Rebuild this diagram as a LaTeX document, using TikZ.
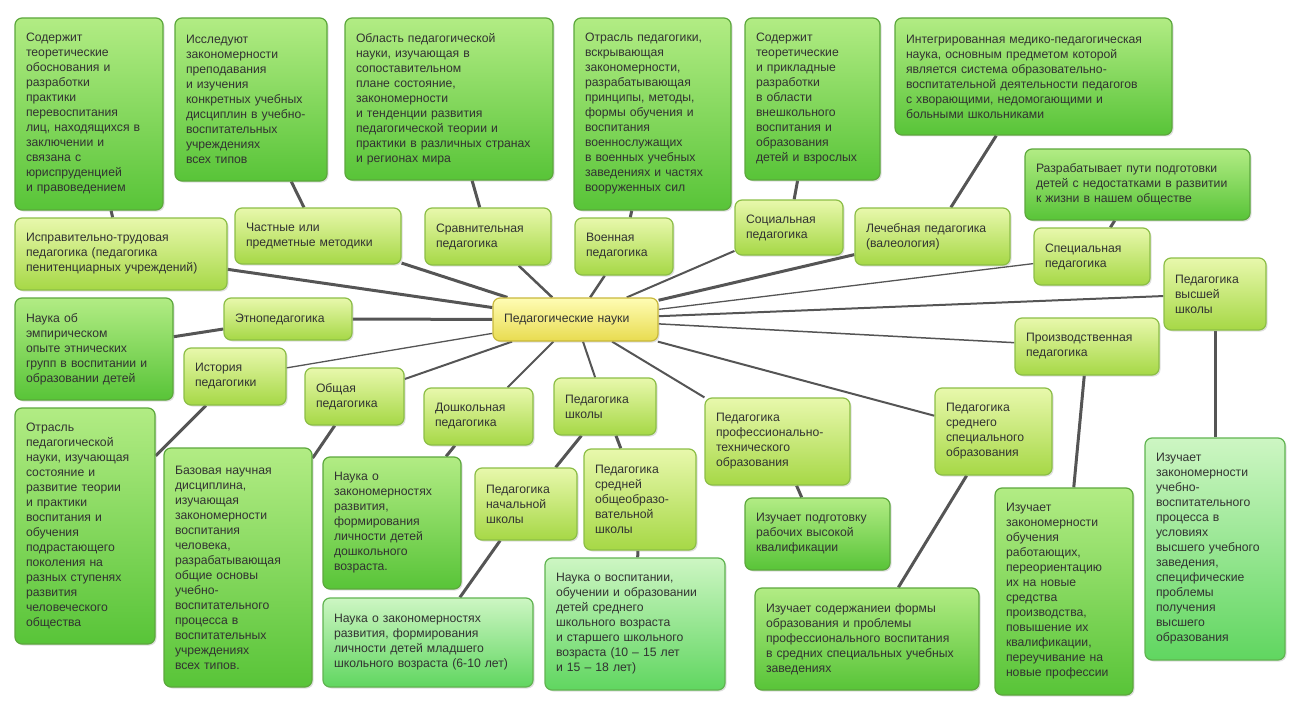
\documentclass[tikz,border=0pt]{standalone}
\usepackage{fontspec}
\setmainfont{Liberation Sans}
\usetikzlibrary{shadows,backgrounds}
\definecolor{textgray}{RGB}{50,50,50}
\definecolor{linkgray}{RGB}{85,85,85}
\definecolor{cattop}{RGB}{232,248,172}
\definecolor{catbot}{RGB}{166,216,70}
\definecolor{catedge}{RGB}{140,190,70}
\definecolor{desctop}{RGB}{178,236,132}
\definecolor{descbot}{RGB}{88,196,56}
\definecolor{descedge}{RGB}{92,168,60}
\definecolor{minttop}{RGB}{205,246,195}
\definecolor{mintbot}{RGB}{96,214,96}
\definecolor{mintedge}{RGB}{96,180,80}
\definecolor{hubtop}{RGB}{255,252,180}
\definecolor{hubbot}{RGB}{232,220,80}
\definecolor{hubedge}{RGB}{200,184,60}
\tikzset{
  box/.style={rectangle, rounded corners=7pt, line width=1.2pt, inner xsep=11pt,
    inner ysep=3pt, align=left, text=textgray, font=\fontsize{12.2}{15}\selectfont,
    drop shadow={opacity=0.25, shadow xshift=1.5pt, shadow yshift=-1.5pt}},
  cat/.style={box, draw=catedge, top color=cattop, bottom color=catbot},
  desc/.style={box, draw=descedge, top color=desctop, bottom color=descbot},
  mint/.style={box, draw=mintedge, top color=minttop, bottom color=mintbot},
  hub/.style={box, draw=hubedge, top color=hubtop, bottom color=hubbot},
  link/.style={draw=linkgray, line width=3pt},
}
\begin{document}
\begin{tikzpicture}[x=1pt, y=-1pt]
\useasboundingbox (0,0) rectangle (1295,706);

% top row of descriptions
\node[desc, text width=126pt, minimum height=192pt] (d1) at (89,114) {Содержит\\теоретические\\обоснования и\\разработки\\практики\\перевоспитания\\лиц, находящихся в\\заключении и\\связана с\\юриспруденцией\\и правоведением};
\node[desc, text width=130pt, minimum height=163pt] (d2) at (251,99.5) {Исследуют\\закономерности\\преподавания\\и изучения\\конкретных учебных\\дисциплин в учебно-\\воспитательных\\учреждениях\\всех типов};
\node[desc, text width=186pt, minimum height=162pt] (d3) at (449,99) {Область педагогической\\науки, изучающая  в\\сопоставительном\\плане состояние,\\закономерности\\и тенденции развития\\педагогической теории и\\практики в различных странах\\и регионах мира};
\node[desc, text width=135pt, minimum height=192pt] (d4) at (652.5,114) {Отрасль педагогики,\\вскрывающая\\закономерности,\\разрабатывающая\\принципы, методы,\\формы обучения и\\воспитания\\военнослужащих\\в военных учебных\\заведениях и частях\\вооруженных сил};
\node[desc, text width=113pt, minimum height=162pt] (d5) at (812.5,99) {Содержит\\теоретические\\и прикладные\\разработки\\в области\\внешкольного\\воспитания и\\образования\\детей и взрослых};
\node[desc, text width=255pt, minimum height=117pt] (d6) at (1033.5,76.5) {Интегрированная медико-педагогическая\\наука, основным предметом которой\\является система образовательно-\\воспитательной деятельности педагогов\\с хворающими, недомогающими и\\больными школьниками};
\node[desc, text width=203pt, minimum height=71pt] (d7) at (1137.5,184.5) {Разрабатывает пути подготовки\\детей с недостатками в развитии\\к жизни в нашем обществе};

% branches
\node[cat, text width=190pt, minimum height=72pt] (c8) at (121,254) {Исправительно-трудовая\\педагогика (педагогика\\пенитенциарных учреждений)};
\node[cat, text width=144pt, minimum height=56pt] (c9) at (318,236) {Частные или\\предметные методики};
\node[cat, text width=104pt, minimum height=57pt] (c10) at (488,236.5) {Сравнительная\\педагогика};
\node[cat, text width=76pt, minimum height=57pt] (c11) at (624,246.5) {Военная\\педагогика};
\node[cat, text width=86pt, minimum height=55pt] (c12) at (789,227.5) {Социальная\\педагогика};
\node[cat, text width=133pt, minimum height=57pt] (c13) at (932.5,236.5) {Лечебная педагогика\\(валеология)};
\node[cat, text width=94pt, minimum height=57pt] (c14) at (1092,256.5) {Специальная\\педагогика};
\node[cat, text width=80pt, minimum height=72pt] (c15) at (1215,294) {Педагогика\\высшей\\школы};
\node[cat, text width=106pt, minimum height=42pt] (c17) at (288,319) {Этнопедагогика};
\node[hub, text width=143pt, minimum height=43pt] (ctr) at (575.5,319.5) {Педагогические науки};
\node[cat, text width=80pt, minimum height=57pt] (c19) at (235,376.5) {История\\педагогики};
\node[cat, text width=77pt, minimum height=57pt] (c20) at (354.5,396.5) {Общая\\педагогика};
\node[cat, text width=87pt, minimum height=57pt] (c21) at (478.5,416.5) {Дошкольная\\педагогика};
\node[cat, text width=80pt, minimum height=57pt] (c22) at (605,406.5) {Педагогика\\школы};
\node[cat, text width=122pt, minimum height=57pt] (c23) at (1087,346.5) {Производственная\\педагогика};
\node[cat, text width=123pt, minimum height=87pt] (c24) at (777.5,441.5) {Педагогика\\профессионально-\\технического\\образования};
\node[cat, text width=95pt, minimum height=87pt] (c25) at (993.5,431.5) {Педагогика\\среднего\\специального\\образования};
\node[cat, text width=80pt, minimum height=72pt] (c29) at (526,504) {Педагогика\\начальной\\школы};
\node[cat, text width=90pt, minimum height=101pt] (c30) at (640,499.5) {Педагогика\\средней\\общеобразо-\\вательной\\школы};

% lower descriptions
\node[desc, text width=136pt, minimum height=102pt] (d16) at (94,349) {Наука об\\эмпирическом\\опыте этнических\\групп в воспитании и\\образовании детей};
\node[desc, text width=118pt, minimum height=236pt] (d26) at (85,526) {Отрасль\\педагогической\\науки, изучающая\\состояние и\\развитие теории\\и практики\\воспитания и\\обучения\\подрастающего\\поколения на\\разных ступенях\\развития\\человеческого\\общества};
\node[desc, text width=126pt, minimum height=239pt] (d27) at (238,567.5) {Базовая научная\\дисциплина,\\изучающая\\закономерности\\воспитания\\человека,\\разрабатывающая\\общие основы\\учебно-\\воспитательного\\процесса в\\воспитательных\\учреждениях\\всех типов.};
\node[desc, text width=116pt, minimum height=132pt] (d28) at (392,523) {Наука о\\закономерностях\\развития,\\формирования\\личности детей\\дошкольного\\возраста.};
\node[mint, text width=188pt, minimum height=89pt] (d31) at (428,642.5) {Наука о закономерностях\\развития, формирования\\личности детей младшего\\школьного возраста (6-10 лет)};
\node[mint, text width=158pt, minimum height=132pt] (d32) at (635,624) {Наука о воспитании,\\обучении и образовании\\детей среднего\\школьного возраста\\и старшего школьного\\возраста (10 – 15 лет\\и 15 – 18 лет)};
\node[desc, text width=123pt, minimum height=72pt] (d33) at (817.5,534) {Изучает подготовку\\рабочих высокой\\квалификации};
\node[desc, text width=202pt, minimum height=102pt] (d34) at (867,639) {Изучает содержаниеи формы\\образования и проблемы\\профессионального воспитания\\в средних специальных учебных\\заведениях};
\node[desc, text width=116pt, minimum height=207pt] (d35) at (1064,591.5) {Изучает\\закономерности\\обучения\\работающих,\\переориентацию\\их на новые\\средства\\производства,\\повышение их\\квалификации,\\переучивание на\\новые профессии};
\node[mint, text width=118pt, minimum height=222pt] (d36) at (1215,549) {Изучает\\закономерности\\учебно-\\воспитательного\\процесса в\\условиях\\высшего учебного\\заведения,\\специфические\\проблемы\\получения\\высшего\\образования};

\begin{pgfonlayer}{background}
\foreach \n/\w in {c8/3,c9/3,c10/2.5,c11/2.5,c12/2,c13/3,c14/1.3,c15/2,c17/3,c19/1.3,c20/2,c21/2,c22/2,c23/1.5,c24/2,c25/2}
  \draw[link, line width=\w pt] (ctr) -- (\n);
\foreach \a/\b in {c8/d1,c9/d2,c10/d3,c11/d4,c12/d5,c13/d6,c14/d7,c15/d36,c17/d16,c19/d26,c20/d27,c21/d28,c22/c29,c22/c30,c29/d31,c30/d32,c24/d33,c25/d34,c23/d35}
  \draw[link] (\a) -- (\b);
\end{pgfonlayer}
\end{tikzpicture}
\end{document}
